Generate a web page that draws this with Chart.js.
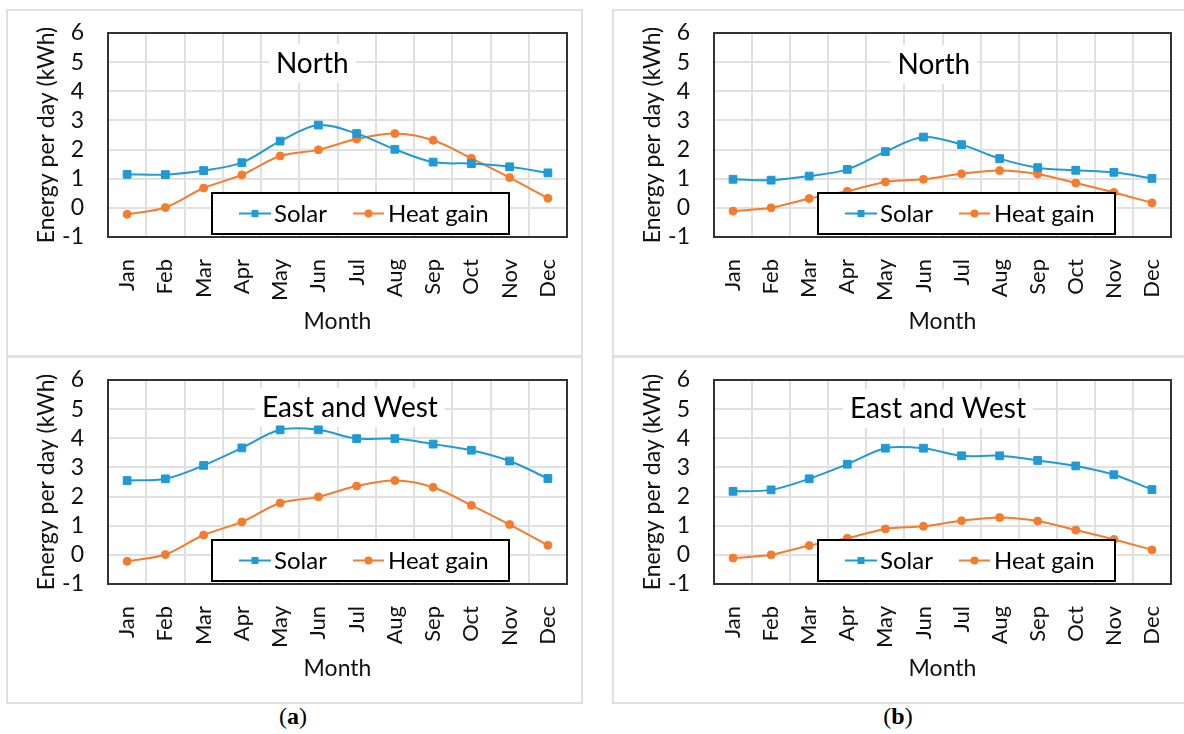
<!DOCTYPE html>
<html>
<head>
<meta charset="utf-8">
<script src="https://cdn.jsdelivr.net/npm/chart.js@4.4.1/dist/chart.umd.min.js"></script>
<style>
body { margin: 0; width: 1184px; height: 734px; overflow: hidden; position: relative; background: #fff; }
.panel { position: absolute; width: 577px; height: 348px; border: 2px solid #e0e0e0; box-sizing: border-box; background: #fff; }
.panel canvas { display: block; }
.caption { position: absolute; top: 703px; transform: translateX(-50%); font-family: "Liberation Serif", "DejaVu Serif", serif; font-size: 24px; color: #000; }
.caption b { font-weight: bold; }
</style>
</head>
<body>
<div class="panel" style="left:6px;top:9px"><canvas id="northA" width="573" height="344"></canvas></div>
<div class="panel" style="left:612px;top:9px"><canvas id="northB" width="573" height="344"></canvas></div>
<div class="panel" style="left:6px;top:356px"><canvas id="eastWestA" width="573" height="344"></canvas></div>
<div class="panel" style="left:612px;top:356px"><canvas id="eastWestB" width="573" height="344"></canvas></div>
<div class="caption" style="left:293px">(<b>a</b>)</div>
<div class="caption" style="left:898px">(<b>b</b>)</div>

<script>
// Month categories
const months = ['Jan', 'Feb', 'Mar', 'Apr', 'May', 'Jun', 'Jul', 'Aug', 'Sep', 'Oct', 'Nov', 'Dec'];

// (a) series, kWh per day
const solarNorthA = [1.15, 1.14, 1.28, 1.55, 2.29, 2.84, 2.55, 2.01, 1.57, 1.52, 1.41, 1.20];
const solarEastWestA = [2.55, 2.61, 3.07, 3.67, 4.29, 4.29, 3.99, 3.99, 3.80, 3.59, 3.22, 2.62];
const heatGainA = [-0.22, 0.01, 0.68, 1.13, 1.78, 1.99, 2.36, 2.55, 2.32, 1.70, 1.04, 0.33];

// (b) series, kWh per day
const solarNorthB = [0.98, 0.95, 1.09, 1.32, 1.93, 2.43, 2.17, 1.69, 1.38, 1.29, 1.22, 1.01];
const solarEastWestB = [2.18, 2.23, 2.61, 3.11, 3.66, 3.66, 3.40, 3.40, 3.24, 3.05, 2.75, 2.24];
const heatGainB = [-0.11, 0.00, 0.32, 0.57, 0.89, 0.98, 1.17, 1.28, 1.16, 0.85, 0.53, 0.17];

// y axis range
const yMin = -1;
const yMax = 6;

const solarColor = '#1f9ad6';
const heatColor = '#f47c2c';
const gridColor = '#e0e0e0';
const textColor = '#111';
const fontFamily = 'Lato, "Open Sans", sans-serif';

// Dark frame around the plot area
const plotBorder = {
    id: 'plotBorder',
    beforeDatasetsDraw(chart) {
        const { ctx, chartArea } = chart;
        ctx.save();
        ctx.strokeStyle = '#333';
        ctx.lineWidth = 2;
        ctx.strokeRect(chartArea.left, chartArea.top, chartArea.width, chartArea.height);
        ctx.restore();
    }
};

// Title inside the plot with a white box behind it
const panelTitle = {
    id: 'panelTitle',
    beforeDatasetsDraw(chart, args, opts) {
        const { ctx, chartArea } = chart;
        ctx.save();
        ctx.font = '28px ' + fontFamily;
        const w = ctx.measureText(opts.text).width;
        const x = chartArea.left + chartArea.width * opts.x;
        const y = chartArea.top + opts.y;
        ctx.fillStyle = '#fff';
        ctx.fillRect(x - w / 2 - 7, y - 19, w + 14, 39);
        ctx.fillStyle = '#000';
        ctx.textAlign = 'center';
        ctx.textBaseline = 'middle';
        ctx.fillText(opts.text, x, y + 1);
        ctx.restore();
    }
};

// Legend drawn as a framed box over the lines
const boxLegend = {
    id: 'boxLegend',
    afterDatasetsDraw(chart) {
        const { ctx, chartArea } = chart;
        const left = chartArea.left + 104;
        const top = chartArea.top + 160;
        const width = 297;
        const height = 41;
        const cy = top + height / 2;
        // line start, line end, text start for each item
        const items = [[27, 59, 62], [141, 172, 176]];

        ctx.save();
        ctx.fillStyle = '#fff';
        ctx.fillRect(left, top, width, height);
        ctx.strokeStyle = '#000';
        ctx.lineWidth = 2;
        ctx.strokeRect(left, top, width, height);

        chart.data.datasets.forEach((ds, i) => {
            const [x0, x1, tx] = items[i];
            const mx = left + (x0 + x1) / 2;
            ctx.strokeStyle = ds.borderColor;
            ctx.lineWidth = 2;
            ctx.beginPath();
            ctx.moveTo(left + x0, cy);
            ctx.lineTo(left + x1, cy);
            ctx.stroke();
            ctx.fillStyle = ds.borderColor;
            ctx.beginPath();
            if (ds.pointStyle === 'rect') {
                ctx.rect(mx - 3.5, cy - 3.5, 7, 7);
            } else {
                ctx.arc(mx, cy, 4, 0, Math.PI * 2);
            }
            ctx.fill();
            ctx.fillStyle = '#000';
            ctx.font = '24px ' + fontFamily;
            ctx.textAlign = 'left';
            ctx.textBaseline = 'middle';
            ctx.fillText(ds.label, left + tx, cy + 1);
        });
        ctx.restore();
    }
};

function makeChart(id, solar, heat, title, titleX, titleY, padRight) {
    const ctx = document.getElementById(id).getContext('2d');
    return new Chart(ctx, {
        type: 'line',
        data: {
            labels: months,
            datasets: [
                {
                    label: 'Solar',
                    data: solar,
                    borderColor: solarColor,
                    backgroundColor: solarColor,
                    borderWidth: 2,
                    pointStyle: 'rect',
                    pointRadius: 5.5,
                    pointBorderWidth: 1,
                    tension: 0.33
                },
                {
                    label: 'Heat gain',
                    data: heat,
                    borderColor: heatColor,
                    backgroundColor: heatColor,
                    borderWidth: 2,
                    pointStyle: 'circle',
                    pointRadius: 4,
                    pointBorderWidth: 1,
                    tension: 0.33
                }
            ]
        },
        options: {
            responsive: false,
            animation: false,
            layout: { padding: { left: 0, top: 22, right: padRight, bottom: 0 } },
            plugins: {
                legend: { display: false },
                tooltip: { enabled: false },
                panelTitle: { text: title, x: titleX, y: titleY }
            },
            scales: {
                x: {
                    offset: true,
                    grid: { offset: true, color: gridColor, lineWidth: 2, drawTicks: false },
                    border: { display: false },
                    ticks: {
                        autoSkip: false,
                        minRotation: 90,
                        maxRotation: 90,
                        padding: 22,
                        color: textColor,
                        font: { family: fontFamily, size: 22 }
                    },
                    title: {
                        display: true,
                        text: 'Month',
                        color: textColor,
                        font: { family: fontFamily, size: 23 },
                        padding: { top: 0, bottom: 20 }
                    },
                    afterFit(scale) {
                        // fixed axis band, no extra side padding from the labels
                        scale.height = 118;
                        scale.paddingLeft = 0;
                        scale.paddingRight = 0;
                    }
                },
                y: {
                    min: yMin,
                    max: yMax,
                    grid: { color: gridColor, lineWidth: 2, drawTicks: false },
                    border: { display: false },
                    ticks: {
                        stepSize: 1,
                        autoSkip: false,
                        padding: 24,
                        color: textColor,
                        font: { family: fontFamily, size: 23 }
                    },
                    title: {
                        display: true,
                        text: 'Energy per day (kWh)',
                        color: textColor,
                        font: { family: fontFamily, size: 23 },
                        padding: { top: 25, bottom: 0 }
                    },
                    afterFit(scale) {
                        scale.width = 100;
                        scale.paddingTop = 0;
                        scale.paddingBottom = 0;
                    }
                }
            }
        },
        plugins: [plotBorder, panelTitle, boxLegend]
    });
}

makeChart('northA', solarNorthA, heatGainA, 'North', 0.445, 30, 14);
makeChart('northB', solarNorthB, heatGainB, 'North', 0.481, 31, 16);
makeChart('eastWestA', solarEastWestA, heatGainA, 'East and West', 0.527, 27, 14);
makeChart('eastWestB', solarEastWestB, heatGainB, 'East and West', 0.49, 28, 16);
</script>
</body>
</html>
